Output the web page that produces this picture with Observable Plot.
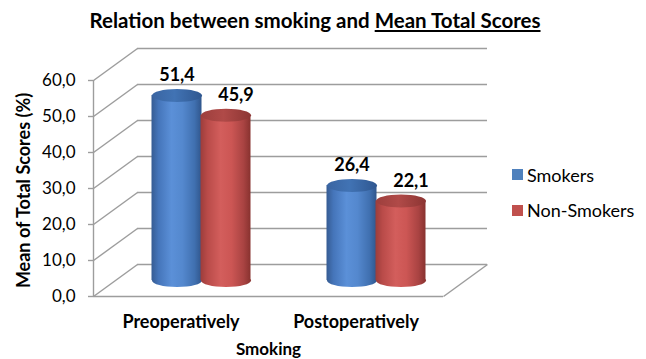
<!DOCTYPE html>
<html>
<head>
<meta charset="utf-8">
<script src="https://cdn.jsdelivr.net/npm/d3@7"></script>
<script src="https://cdn.jsdelivr.net/npm/@observablehq/plot@0.6"></script>
<style>
  body { margin: 0; background: #fff; }
  #chart { position: relative; width: 646px; height: 359px; font-family: Lato, "Open Sans", sans-serif; color: #000; }
  #chart svg { position: absolute; left: 0; top: 0; }
  #title { position: absolute; left: 0; top: 10px; width: 630px; text-align: center; font-weight: bold; font-size: 20.5px; line-height: 20px; white-space: nowrap; }
  #title u { text-underline-offset: 2px; }
  .legend-item { position: absolute; display: flex; align-items: center; height: 20px; font-size: 18px; white-space: nowrap; }
  .legend-item span.sw { display: inline-block; width: 11px; height: 11px; margin-right: 4px; }
</style>
</head>
<body>
<div id="chart"></div>
<script>
// Chart data
const categories = ["Preoperatively", "Postoperatively"];
const series = ["Smokers", "Non-Smokers"];
const smokers = [51.4, 26.4];
const nonSmokers = [45.9, 22.1];
const yTicks = [0, 10, 20, 30, 40, 50, 60];
const colors = ["#4F81BD", "#C0504D"];

const values = [smokers, nonSmokers];

// Layout
const width = 646, height = 359;
const mL = 93, mR = 203, mT = 80, mB = 63;
const pxX = (width - mL - mR) / categories.length; // pixels per category slot
const pxY = (height - mT - mB) / 60;               // pixels per score unit
const wallDX = 44, wallDY = -32;                   // depth of the back wall
const cylDY = -16;                                 // cylinders stand mid-depth
const cylOffset = [-4, 45];                        // horizontal offset of each series
const halfW = 25;                                  // cylinder radius (px)
const grid = "#9d9d9d";

const fmt = v => v.toFixed(1).replace(".", ",");

// Ellipse used for cylinder caps
const ellipse = {
  draw(context) {
    const rx = halfW, ry = 6.5, k = 0.5523;
    context.moveTo(rx, 0);
    context.bezierCurveTo(rx, ry * k, rx * k, ry, 0, ry);
    context.bezierCurveTo(-rx * k, ry, -rx, ry * k, -rx, 0);
    context.bezierCurveTo(-rx, -ry * k, -rx * k, -ry, 0, -ry);
    context.bezierCurveTo(rx * k, -ry, rx, -ry * k, rx, 0);
    context.closePath();
  }
};

const cylinderMarks = values.flatMap((vals, k) => {
  const data = categories.map((c, i) => ({i, v: vals[i]}));
  const cx = d => d.i + 0.5;
  return [
    Plot.dot(data, {x: cx, y: 0, symbol: ellipse, r: 1, fill: `url(#body${k})`, dx: cylOffset[k], dy: cylDY}),
    Plot.rectY(data, {
      x1: d => d.i + 0.5 - halfW / pxX, x2: d => d.i + 0.5 + halfW / pxX,
      y1: 0, y2: d => d.v, fill: `url(#body${k})`, dx: cylOffset[k], dy: cylDY
    }),
    Plot.dot(data, {x: cx, y: d => d.v, symbol: ellipse, r: 1, fill: `url(#top${k})`, dx: cylOffset[k], dy: cylDY}),
    Plot.text(data, {
      x: cx, y: d => d.v, text: d => fmt(d.v), dx: cylOffset[k] + (k ? 10 : 0), dy: cylDY - 20,
      fontWeight: "bold", fontSize: 18, fill: "#000"
    })
  ];
});

const svg = Plot.plot({
  width, height,
  marginLeft: mL, marginRight: mR, marginTop: mT, marginBottom: mB,
  style: {fontFamily: "Lato, 'Open Sans', sans-serif", color: "#000", background: "transparent", overflow: "visible"},
  x: {type: "linear", domain: [0, categories.length]},
  y: {domain: [0, 60]},
  marks: [
    // back wall gridlines
    Plot.ruleY(yTicks, {dx: wallDX, dy: wallDY, stroke: grid, strokeWidth: 1.4}),
    // side wall gridlines
    Plot.link(yTicks, {x1: 0, y1: d => d, x2: wallDX / pxX, y2: d => d - wallDY / pxY, stroke: grid, strokeWidth: 1.4}),
    // floor
    Plot.ruleY([0], {stroke: grid, strokeWidth: 1.4}),
    Plot.link([0], {x1: categories.length, y1: 0, x2: categories.length + wallDX / pxX, y2: -wallDY / pxY, stroke: grid, strokeWidth: 1.4}),
    // front vertical axis line
    Plot.ruleX([0], {y1: 0, y2: 60, stroke: grid, strokeWidth: 1.4}),
    Plot.axisY({ticks: yTicks, tickFormat: fmt, tickSize: 5, tickPadding: 13, stroke: grid, strokeWidth: 1.4, fontSize: 17, fill: "#000", label: null}),
    Plot.axisX({ticks: categories.map((c, i) => i + 0.5), tickFormat: d => categories[Math.floor(d)], tickSize: 0, tickPadding: 19, fontSize: 18, fontWeight: "bold", fill: "#000", label: null}),
    ...cylinderMarks,
    Plot.text(["Mean of Total Scores (%)"], {frameAnchor: "left", textAnchor: "middle", rotate: -90, dx: -69, dy: 2, fontSize: 18, fontWeight: "bold", fill: "#000"}),
    Plot.text(["Smoking"], {frameAnchor: "bottom", lineAnchor: "top", dy: 46, fontSize: 17, fontWeight: "bold", fill: "#000"})
  ]
});

// Cylinder shading
const defs = d3.select(svg).insert("defs", ":first-child");
const bodyStops = [
  [["0%", "#365c93"], ["14%", "#4575ba"], ["40%", "#5b90d8"], ["62%", "#5488ce"], ["86%", "#4070b0"], ["100%", "#30568c"]],
  [["0%", "#9c3d3b"], ["14%", "#b94b49"], ["40%", "#d35e5c"], ["62%", "#cc5654"], ["86%", "#a94342"], ["100%", "#88322f"]]
];
const topStops = [
  [["0%", "#3a65a2"], ["45%", "#4173b4"], ["100%", "#2f5790"]],
  [["0%", "#9d3f3d"], ["45%", "#b04a48"], ["100%", "#8c3533"]]
];
function gradient(id, stops) {
  const g = defs.append("linearGradient").attr("id", id).attr("x1", "0").attr("x2", "1").attr("y1", "0").attr("y2", "0");
  stops.forEach(([o, c]) => g.append("stop").attr("offset", o).attr("stop-color", c));
}
bodyStops.forEach((s, k) => gradient(`body${k}`, s));
topStops.forEach((s, k) => gradient(`top${k}`, s));

const chart = d3.select("#chart");
chart.node().appendChild(svg);

// Title
chart.append("div").attr("id", "title")
  .html("Relation between smoking and <u>Mean Total Scores</u>");

// Legend
series.forEach((name, k) => {
  const item = chart.append("div").attr("class", "legend-item")
    .style("left", "512px").style("top", `${164.5 + k * 35.5}px`);
  item.append("span").attr("class", "sw").style("background", colors[k]);
  item.append("span").text(name);
});
</script>
</body>
</html>
